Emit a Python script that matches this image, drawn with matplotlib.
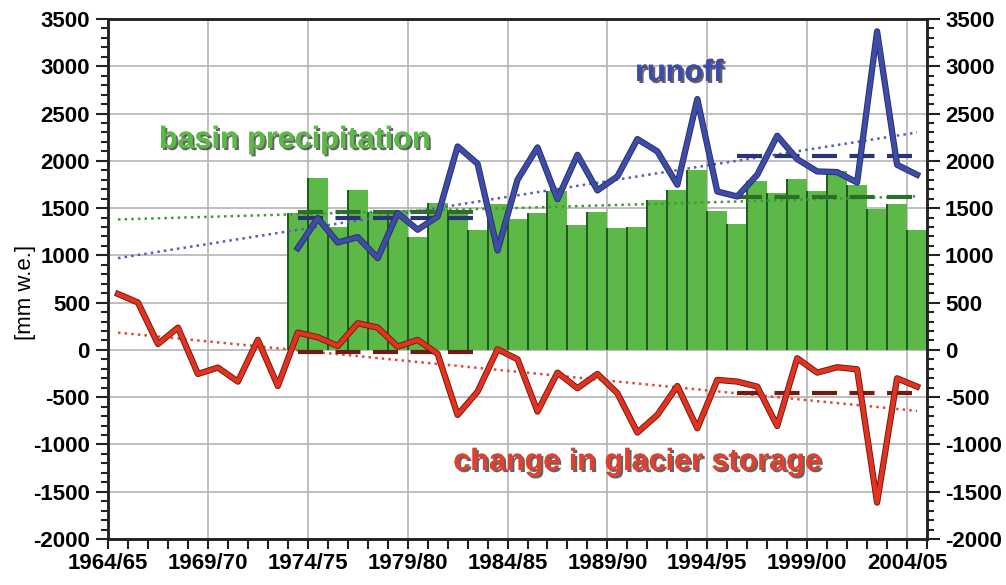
import numpy as np
import matplotlib
matplotlib.use('Agg')
import matplotlib.pyplot as plt
import matplotlib.patheffects as pe
from matplotlib.ticker import MultipleLocator

plt.rcParams['font.family'] = ['Liberation Sans', 'DejaVu Sans']
plt.rcParams['axes.unicode_minus'] = False

# hydrological years 1964/65 .. 2004/05
years = ['%d/%02d' % (y, (y + 1) % 100) for y in range(1964, 2005)]

# basin precipitation, 1973/74 .. 2004/05
precip = [1450, 1820, 1305, 1695, 1463, 1485, 1192, 1551, 1480, 1267,
          1545, 1385, 1446, 1676, 1324, 1454, 1288, 1299, 1588, 1687,
          1898, 1472, 1331, 1782, 1659, 1810, 1683, 1888, 1747, 1490,
          1546, 1271]

# runoff, 1973/74 .. 2004/05
runoff = [1077, 1394, 1137, 1193, 971, 1447, 1271, 1412, 2152, 1969,
          1052, 1800, 2142, 1595, 2064, 1687, 1835, 2230, 2100, 1747,
          2653, 1676, 1623, 1853, 2265, 2018, 1888, 1881, 1771, 3369,
          1958, 1853]

# change in glacier storage, 1964/65 .. 2004/05
glacier = [592, 501, 63, 236, -254, -187, -335, 106, -381, 183,
           134, 42, 282, 236, 35, 106, -42, -688, -441, 7,
           -99, -652, -240, -405, -254, -458, -874, -688, -381, -829,
           -317, -335, -388, -804, -88, -240, -183, -205, -1615, -300,
           -388]

# linear trends (start 1964/65, end 2004/05)
trend_precip = [1380, 1625]
trend_runoff = [971, 2300]
trend_glacier = [183, -645]

# period means: 1973/74-1982/83 and 1995/96-2004/05
mean_precip = [1456, 1615]
mean_runoff = [1393, 2052]
mean_glacier = [-18, -455]

x_all = np.arange(len(years)) + 0.5
x_rec = x_all[9:]
p1 = (x_all[9], x_all[18])
p2 = (x_all[31], x_all[40])

fig = plt.figure(figsize=(10.06, 5.85), dpi=100)
ax = fig.add_axes([0.1074, 0.0786, 0.8141, 0.8889])

ax.bar(x_rec, precip, width=1.0, color='#5cb947', edgecolor='none', zorder=2)
# dark separators between the bars
ax.vlines(x_rec - 0.5, 0, precip, color='#1f5a1f', lw=1.4, zorder=2.1)
ax.vlines(x_rec[-1] + 0.5, 0, precip[-1], color='#1f5a1f', lw=1.4, zorder=2.1)

ends = [x_all[0], x_all[-1]]
ax.plot(ends, trend_precip, ':', color='#3f9a35', lw=1.8, zorder=3)
ax.plot(ends, trend_runoff, ':', color='#5a5ab8', lw=1.8, zorder=3)
ax.plot(ends, trend_glacier, ':', color='#e0483a', lw=1.8, zorder=3)

dash = dict(lw=3, dashes=(6, 3), zorder=4)
ax.plot(p1, [mean_precip[0]] * 2, color='#2f6e2a', **dash)
ax.plot(p2, [mean_precip[1]] * 2, color='#2f6e2a', **dash)
ax.plot(p1, [mean_runoff[0]] * 2, color='#2b3478', **dash)
ax.plot(p2, [mean_runoff[1]] * 2, color='#2b3478', **dash)
ax.plot(p1, [mean_glacier[0]] * 2, color='#6e1c14', **dash)
ax.plot(p2, [mean_glacier[1]] * 2, color='#6e1c14', **dash)

ax.plot(x_rec, runoff, color='#3d4ca6', lw=3.2, zorder=5,
        path_effects=[pe.Stroke(linewidth=4.5, foreground='#262e6a'), pe.Normal()])
ax.plot(x_all, glacier, color='#e3321f', lw=3.2, zorder=5,
        path_effects=[pe.Stroke(linewidth=4.5, foreground='#6a1a10'), pe.Normal()])

shadow = [pe.withSimplePatchShadow(offset=(1.5, -1.5), shadow_rgbFace='#222222', alpha=0.7),
          pe.Normal()]
ax.text(9.33, 2221, 'basin precipitation', color='#5cb947', fontsize=22,
        fontweight='bold', ha='center', va='center', zorder=6, path_effects=shadow)
ax.text(28.6, 2930, 'runoff', color='#3d4ca6', fontsize=22,
        fontweight='bold', ha='center', va='center', zorder=6, path_effects=shadow)
ax.text(26.5, -1185, 'change in glacier storage', color='#e0402f', fontsize=22,
        fontweight='bold', ha='center', va='center', zorder=6, path_effects=shadow)

ax.set_xlim(0, 41)
ax.set_ylim(-2000, 3500)
ax.set_xticks(np.arange(0, 41, 5))
ax.set_xticklabels(years[::5])
ax.xaxis.set_minor_locator(MultipleLocator(1))
ax.yaxis.set_major_locator(MultipleLocator(500))
ax.yaxis.set_minor_locator(MultipleLocator(100))
ax.grid(True, which='major', color='#b4b4b4', lw=1.2, zorder=0)
ax.set_axisbelow(True)

ax.tick_params(axis='both', which='both', direction='out', width=1.5, color='#222222')
ax.tick_params(axis='y', which='major', length=9, labelsize=16, pad=4)
ax.tick_params(axis='y', which='minor', length=5)
ax.tick_params(axis='x', which='both', length=7, labelsize=16, pad=3)
for lab in ax.get_xticklabels() + ax.get_yticklabels():
    lab.set_fontweight('bold')

ax2 = ax.twinx()
ax2.set_ylim(-2000, 3500)
ax2.yaxis.set_major_locator(MultipleLocator(500))
ax2.yaxis.set_minor_locator(MultipleLocator(100))
ax2.tick_params(axis='y', which='both', direction='out', width=1.5, color='#222222')
ax2.tick_params(axis='y', which='major', length=9, labelsize=16, pad=4)
ax2.tick_params(axis='y', which='minor', length=5)
for lab in ax2.get_yticklabels():
    lab.set_fontweight('bold')

for a in (ax, ax2):
    for s in a.spines.values():
        s.set_linewidth(1.8)
        s.set_color('#222222')

fig.text(0.025, 0.5, '[mm w.e.]', rotation=90, fontsize=16,
         ha='center', va='center')

fig.savefig('out.png', dpi=100)
